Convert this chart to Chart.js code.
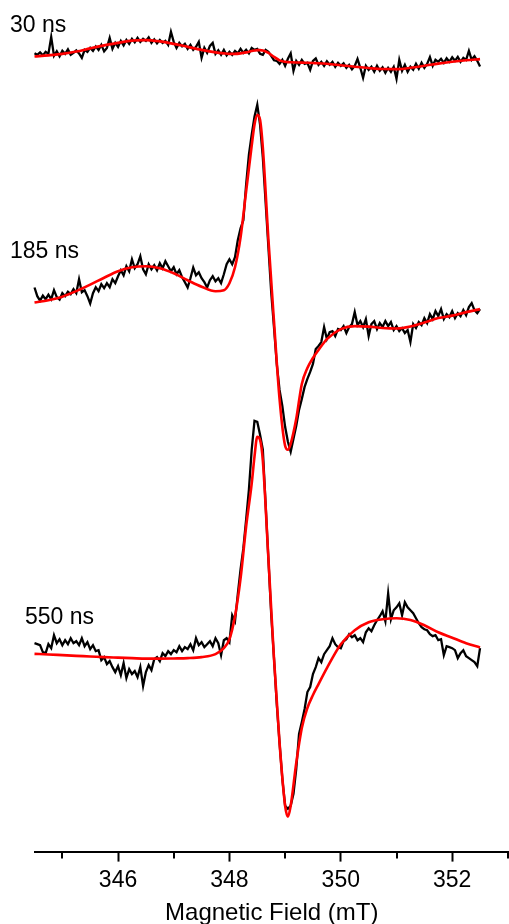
<!DOCTYPE html>
<html>
<head>
<meta charset="utf-8">
<script src="https://cdn.jsdelivr.net/npm/chart.js@4"></script>
<style>
  html, body { margin: 0; padding: 0; background: #fff; }
  canvas { display: block; }
</style>
</head>
<body>
<canvas id="chartEpr" width="509" height="924"></canvas>
<script>
// Barrido de campo (mT) de los espectros medidos
const fieldStart = 344.5;
const fieldStep = 0.05;

// Espectros medidos (u. arb.), uno por retardo
const exp30 = [
  3.7, 2, 4.5, 1.5, 5, 3, 20, 1, 5.5, 0.5,
  6, 3, 7.5, 2, 4, 6.5, 3.5, -1, 7, 5,
  9, 6, 10.5, 7, 12, 5.5, 9, 19, 8, 14,
  10, 16, 11.5, 17, 13, 18, 14.5, 19, 15, 18,
  16, 19.5, 14, 17.5, 13.5, 17, 14, 16, 12, 25,
  15, 9, 14, 10.5, 13, 8, 12, 7, 10, 15,
  -1, 9, 4, 11, 14, 3, 6.5, 2, 7, 1.5,
  5, 2, 6, 3.5, 8, 4, 7, 3.5, 9, 7,
  8, 3, 2, 7, 5, 1, -3.5, -4, -7, -3,
  -9, -2, 3.5, -14, -4, -8, -3, -7, -6, -13,
  -4, -1.5, -8, -5, -9, -4.5, -8, -5, -10, -6,
  -9, -6.5, -11, -8, -12.5, -9, -2, -11, -21, -9,
  -13, -10, -15, -9, -14, -10.5, -16, -11, -15, -10,
  -22, -3, -14, -8, -15, -10, -13, -7, -12, -6,
  -11, -7, -0.3, -9, -3, -5, -2, -6, -1.5, -5,
  -0.5, -4, 0, -5, -1, -3, 6, -3, 0.5, -4,
  -9.7
];
const exp185 = [
  14.7, 6, 1.5, 6.5, 3, 7.5, 3, 12, 5, 2.5,
  9, 6, 10.5, 8, 13, 9, 23, 10, 12, 6,
  -1.3, 9, 15, 11, 18, 14, 19, 15, 23, 19,
  26, 32, 27, 36, 31, 43, 34, 38, 46, 33,
  28, 38, 33, 37, 32, 39, 34, 41, 36, 31,
  35, 28, 32, 25, 20, 14.7, 24, 34.7, 27, 30,
  24, 20, 14.7, 22, 26, 21, 24, 19, 28, 38,
  43, 38, 45, 62, 74, 82, 118, 148, 168, 186,
  198, 178, 145, 100, 55, 10, -25, -62, -88, -104,
  -125, -140, -150, -137, -124, -108, -97, -85, -77, -70,
  -62, -47, -44, -40, -25, -37, -30, -29, -34, -27,
  -28, -24, -31, -25, -22, -10, -23, -19, -25, -17,
  -34, -22, -19, -27, -21, -25, -19, -24, -20, -28,
  -24, -29, -26, -31, -28, -40, -22, -26, -20, -23,
  -16, -21, -12, -17, -9, -14, -7, -17, -12, -15,
  -9, -16, -11, -14, -8, -13, -5, -1, -8, -11,
  -7
];
const exp550 = [
  11, 10, 9, 2, 1, 10, 6, 19, 11, 15,
  9, 14, 10, 16, 11, 13, 9, 16, 8, 12,
  5, 9, 3, 4, -6, -3, -10, -7, -13, -18,
  -12, -21, -9, -24, -15, -20, -17, -23, -13, -32,
  -18, -11, -16, -5, -3, -7, 1, -2, 3, 0,
  4, 2, 8, 3, 7, 5, 10, 4, 16, 9,
  12, 7, 10, 13, 8, 16, 11, -1, 14, 16,
  12, 39, 33, 60, 85, 106, 135, 165, 205, 234,
  233, 220, 205, 150, 95, 40, -4, -50, -89, -125,
  -152, -155, -152, -140, -115, -80, -68, -55, -38, -33,
  -20, -13, -4, -8, 0, 4, 8, 16, 10, 7,
  6, 13, 15, 20, 17, 19, 14, 16, 12, 22,
  26, 23, 29, 34, 38, 43, 33, 61, 35, 44,
  47, 51, 39, 52, 47, 44, 41, 36, 31, 27,
  25, 24, 20, 18, 19, 14, 15, -1, 8, 7,
  6, 4, -4, 1, 4, -2, -4, -6, -8, -12,
  6
];

// Ajustes (simulación), con su propia malla de campo
const fitField = [
  344.5, 344.75, 345.0, 345.25, 345.5, 345.75, 346.0, 346.25, 346.5, 346.75,
  347.0, 347.25, 347.5, 347.75, 347.9, 348.0, 348.1, 348.2, 348.3, 348.4,
  348.45, 348.5, 348.55, 348.6, 348.7, 348.8, 348.9, 349.0, 349.05, 349.1,
  349.2, 349.3, 349.4, 349.5, 349.6, 349.75, 350.0, 350.25, 350.5, 350.75,
  351.0, 351.25, 351.5, 351.75, 352.0, 352.25, 352.5
];
const fit30 = [
  0.3, 1.5, 3, 5.3, 8.5, 11.5, 14, 16.3, 16.8, 15.5,
  13, 10, 7, 4.5, 3.5, 3, 3, 3.5, 4.5, 5.8,
  6.3, 6.7, 6.7, 6.3, 4, 0, -3.5, -5, -5.3, -5.5,
  -5.7, -5.8, -6, -6.2, -6.4, -7, -8.5, -10, -11.2, -12.2,
  -12.3, -11, -9, -6.8, -5, -3.5, -2.3
];
const fit185 = [
  -0.3, 2, 5.5, 11, 17.5, 24.5, 31, 35, 36, 34,
  29, 22, 15.5, 11, 12, 19, 35, 65, 111, 157,
  178, 188, 183, 155, 63, -19, -97, -144, -148, -142,
  -117, -82, -66, -56, -48, -37, -27, -24, -24.5, -26,
  -26.5, -24.5, -20.5, -16, -13.5, -10, -7
];
const fit550 = [
  0.3, -0.3, -1, -1.7, -2.3, -3, -3.5, -4, -4.5, -4.5,
  -4.3, -4, -3, 0, 6, 15, 38, 76, 128, 171,
  198, 218, 215, 194, 96, -4, -89, -152, -163, -152,
  -109, -74, -54, -41, -30, -14, 10, 24, 32, 35,
  36, 34.3, 29, 22, 16.5, 11, 6.7
];

const delays = ['30 ns', '185 ns', '550 ns'];
const offsets = [797, 551, 198];
const majorTicks = [346, 348, 350, 352];
const minorTicks = [345, 347, 349, 351, 353];

const fuente = '"Liberation Sans", Arial, Helvetica, sans-serif';

const series = [exp30, exp185, exp550];
const fits = [fit30, fit185, fit550];
const datasets = [];
series.forEach((s, k) => {
  datasets.push({
    label: delays[k],
    data: s.map((v, i) => ({ x: fieldStart + i * fieldStep, y: v + offsets[k] })),
    borderColor: '#000000',
    borderWidth: 2.3,
    pointRadius: 0,
    tension: 0,
    clip: false,
    order: 2
  });
  datasets.push({
    label: delays[k] + ' ajuste',
    data: fits[k].map((v, i) => ({ x: fitField[i], y: v + offsets[k] })),
    borderColor: '#ff0000',
    borderWidth: 2.6,
    pointRadius: 0,
    cubicInterpolationMode: 'monotone',
    clip: false,
    order: 1
  });
});

// Marcas menores y rótulos de cada espectro
const extras = {
  id: 'extras',
  afterDraw(chart) {
    const { ctx, chartArea, scales: { x } } = chart;
    ctx.save();
    ctx.strokeStyle = '#000';
    ctx.lineWidth = 2;
    minorTicks.forEach(v => {
      const px = Math.round(x.getPixelForValue(v));
      ctx.beginPath();
      ctx.moveTo(px, chartArea.bottom);
      ctx.lineTo(px, chartArea.bottom + 7);
      ctx.stroke();
    });
    ctx.fillStyle = '#000';
    ctx.font = '23px ' + fuente;
    ctx.textBaseline = 'alphabetic';
    const pos = [[10, 32], [10, 258], [25, 624]];
    delays.forEach((t, i) => ctx.fillText(t, pos[i][0], pos[i][1]));
    ctx.restore();
  }
};

new Chart(document.getElementById('chartEpr'), {
  type: 'line',
  data: { datasets },
  options: {
    responsive: false,
    animation: false,
    layout: { padding: { left: 34.5, right: 0, top: 0, bottom: -8 } },
    plugins: { legend: { display: false }, tooltip: { enabled: false } },
    scales: {
      x: {
        type: 'linear',
        min: 344.5,
        max: 353.02,
        afterBuildTicks: s => { s.ticks = majorTicks.map(v => ({ value: v })); },
        grid: { drawOnChartArea: false, tickLength: 10, tickWidth: 2, tickColor: '#000' },
        border: { display: true, color: '#000', width: 2 },
        ticks: { color: '#000', font: { size: 23, family: fuente }, padding: 5, maxRotation: 0, autoSkip: false },
        title: { display: true, text: 'Magnetic Field (mT)', color: '#000', font: { size: 24, family: fuente }, padding: { top: 0, bottom: 4 } }
      },
      y: { display: false, min: 0, max: 854 }
    }
  },
  plugins: [extras]
});
</script>
</body>
</html>
